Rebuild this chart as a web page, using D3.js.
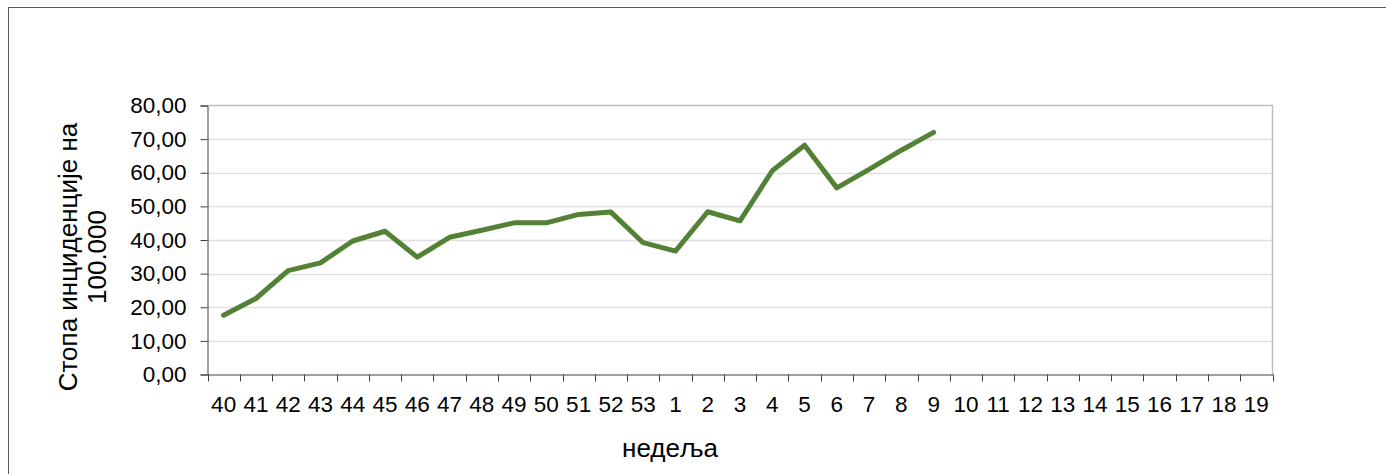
<!DOCTYPE html>
<html><head><meta charset="utf-8">
<script src="https://cdn.jsdelivr.net/npm/d3@7/dist/d3.min.js"></script>
<style>html,body{margin:0;padding:0;background:#fff;}svg{display:block;font-family:"Liberation Sans",Arial,sans-serif;}</style>
</head><body>
<svg id="c" width="1386" height="474"></svg>
<script>
const weeks = ["40","41","42","43","44","45","46","47","48","49","50","51","52","53","1","2","3","4","5","6","7","8","9","10","11","12","13","14","15","16","17","18","19"];
const rateWeeks = ["40","41","42","43","44","45","46","47","48","49","50","51","52","53","1","2","3","4","5","6","7","8","9"];
const rates = [17.6,22.6,30.9,33.2,39.7,42.6,34.9,40.8,42.9,45.1,45.1,47.6,48.3,39.2,36.7,48.4,45.7,60.6,68.2,55.5,61.0,66.7,72.0];
const yTicks = [0,10,20,30,40,50,60,70,80];
const yTitle = ["Стопа инциденције на","100.000"];
const xTitle = "недеља";

const svg = d3.select("#c");
const L=207.5, R=1272.5, T=105.5, B=374.5;
svg.append("rect").attr("x",8.5).attr("y",7.5).attr("width",1400).attr("height",500)
  .attr("fill","none").attr("stroke","#595959").attr("stroke-width",1);

const x = d3.scaleBand().domain(weeks).range([L,R]).padding(0);
const y = d3.scaleLinear().domain([0,80]).range([B,T]);
const fmt = d => d3.format(".2f")(d).replace(".",",");

// gridlines
svg.append("g").selectAll("line").data(yTicks.filter(d=>d>0&&d<80)).join("line")
  .attr("x1",L).attr("x2",R).attr("y1",d=>Math.round(y(d))+0.5).attr("y2",d=>Math.round(y(d))+0.5)
  .attr("stroke","#e0e0e0").attr("stroke-width",1.5);
// plot border top/right
svg.append("path").attr("d",`M${L},${T}H${R}V${B}`).attr("fill","none").attr("stroke","#bfbfbf").attr("stroke-width",1.5);

// y axis
const ya = svg.append("g").attr("transform",`translate(${L},0)`)
  .call(d3.axisLeft(y).tickValues(yTicks).tickFormat(fmt).tickSize(7).tickPadding(14));
ya.select(".domain").attr("stroke","#404040");
ya.selectAll(".tick line").attr("stroke","#404040");
ya.selectAll("text").attr("font-size",22.5).attr("fill","#000").attr("font-family","Liberation Sans, Arial, sans-serif");

// x axis
const xa = svg.append("g").attr("transform",`translate(0,${B})`)
  .call(d3.axisBottom(x).tickSize(0));
xa.select(".domain").attr("stroke","#404040");
xa.selectAll("text").attr("font-size",22.5).attr("fill","#000").attr("y",37).attr("dy",0)
  .attr("font-family","Liberation Sans, Arial, sans-serif");
// tick marks at category boundaries
const bounds = weeks.map(w=>x(w)).concat([x(weeks[weeks.length-1])+x.bandwidth()]);
svg.append("g").selectAll("line").data(bounds).join("line")
  .attr("x1",d=>Math.round(d)+0.5).attr("x2",d=>Math.round(d)+0.5).attr("y1",B).attr("y2",B+7)
  .attr("stroke","#404040");

// line
const line = d3.line().x((d,i)=>x(rateWeeks[i])+x.bandwidth()/2).y(d=>y(d));
svg.append("path").datum(rates).attr("d",line).attr("fill","none")
  .attr("stroke","#538135").attr("stroke-width",5).attr("stroke-linejoin","round").attr("stroke-linecap","round");

// titles
const yt = svg.append("text").attr("transform","translate(0,257) rotate(-90)")
  .attr("text-anchor","middle").attr("font-size",26).attr("fill","#000");
yt.append("tspan").attr("x",0).attr("y",77).text(yTitle[0]);
yt.append("tspan").attr("x",0).attr("y",106).text(yTitle[1]);
svg.append("text").attr("x",670).attr("y",457).attr("text-anchor","middle").attr("font-size",26).attr("fill","#000").text(xTitle);
</script>
</body></html>
